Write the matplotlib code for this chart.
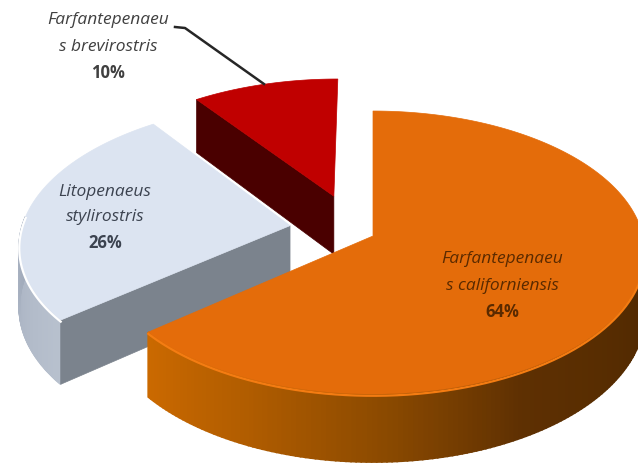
import numpy as np
import matplotlib
matplotlib.use("Agg")
import matplotlib.pyplot as plt
from matplotlib.colors import to_rgb

species = ["Farfantepenaeus californiensis", "Litopenaeus stylirostris", "Farfantepenaeus brevirostris"]
label_lines = [["Farfantepenaeu", "s californiensis"], ["Litopenaeus", "stylirostris"], ["Farfantepenaeu", "s brevirostris"]]
shares = [64, 26, 10]

top_colors = ["#E46C0A", "#DCE4F1", "#C00000"]
cut_colors = [None, "#7B838D", "#4A0000"]
rim_stops = [
    [(95, "#4E2800"), (150, "#5E3002"), (180, "#8F4C00"), (205, "#B25D00"), (231, "#CC6A00")],
    [(230, "#B8C1CE"), (255, "#AEB7C6"), (274, "#A0AABA")],
    [],
]
bevel_colors = ["#F47C12", "#FFFFFF", "#D81010"]
explode = [(0.0, 0.0), (-0.31, 0.075), (-0.15, 0.295)]
text_colors = ["#5A2A00", "#3C4350", "#404040"]
text_pos = [(502, (259, 286, 312)), (105, (192, 217, 243)), (108, (20, 47, 73))]

CX, CY, RX, RY, K, DEPTH = 373, 236, 270, 139.6, 0.117, 60


def project(u, v, z=0.0):
    w = 1 + K * v
    return CX + RX * u / w, CY - RY * v / w + z / w


def rim_xy(theta, du, dv, z=0.0):
    t = np.radians(theta)
    return project(np.sin(t) + du, np.cos(t) + dv, z)


fig = plt.figure(figsize=(6.38, 4.63), dpi=100)
ax = fig.add_axes([0, 0, 1, 1])
ax.set_xlim(0, 638)
ax.set_ylim(463, 0)
ax.axis("off")

total = sum(shares)
edges = np.concatenate([[0], np.cumsum(shares)]) * 360 / total

for i in [2, 1, 0]:
    a0, a1 = edges[i], edges[i + 1]
    du, dv = explode[i]
    th = np.linspace(a0, a1, 240)
    ax0, ay0 = project(du, dv)

    # outer side surface
    stops = rim_stops[i]
    if stops:
        angs = [s[0] for s in stops]
        rgb = np.array([to_rgb(s[1]) for s in stops])
        vis = th[(th >= angs[0]) & (th <= angs[-1])]
        for t0, t1 in zip(vis[:-1], vis[1:]):
            x0, y0 = rim_xy(t0, du, dv)
            x1, y1 = rim_xy(t1, du, dv)
            x2, y2 = rim_xy(t1, du, dv, DEPTH)
            x3, y3 = rim_xy(t0, du, dv, DEPTH)
            c = [np.interp(t0, angs, rgb[:, k]) for k in range(3)]
            ax.fill([x0, x1, x2, x3], [y0, y1, y2, y3], color=c, lw=1.2, zorder=i * -3 + 10)

    # cut face seen from the front
    if cut_colors[i]:
        xc, yc = rim_xy(a0, du, dv)
        xd, yd = rim_xy(a0, du, dv, DEPTH)
        xa, ya = project(du, dv, DEPTH)
        ax.fill([ax0, xc, xd, xa], [ay0, yc, yd, ya], color=cut_colors[i], lw=0.5, zorder=i * -3 + 11)

    # top surface
    rx, ry = rim_xy(th, du, dv)
    ax.fill(np.r_[ax0, rx], np.r_[ay0, ry], color=top_colors[i], lw=0.5, zorder=i * -3 + 12)
    front = th[(th > 95) & (th < 274)] if i < 2 else th[:0]
    if len(front):
        fx, fy = rim_xy(front, du, dv, 1.5)
        ax.plot(fx, fy, color=bevel_colors[i], lw=1.6, zorder=i * -3 + 12)

for lines, share, col, (x, ys) in zip(label_lines, shares, text_colors, text_pos):
    for line, y in zip(lines, ys):
        ax.text(x, y, line, ha="center", va="center", style="italic", family="Open Sans",
                fontsize=12.5, color=col, zorder=20)
    ax.text(x, ys[2], f"{share}%", ha="center", va="center", weight="bold", family="Open Sans",
            fontsize=12, color=col, zorder=20)

ax.plot([175, 185, 264], [27, 28, 84], color="#262626", lw=1.8, zorder=20)

fig.savefig("out.png", dpi=100)
